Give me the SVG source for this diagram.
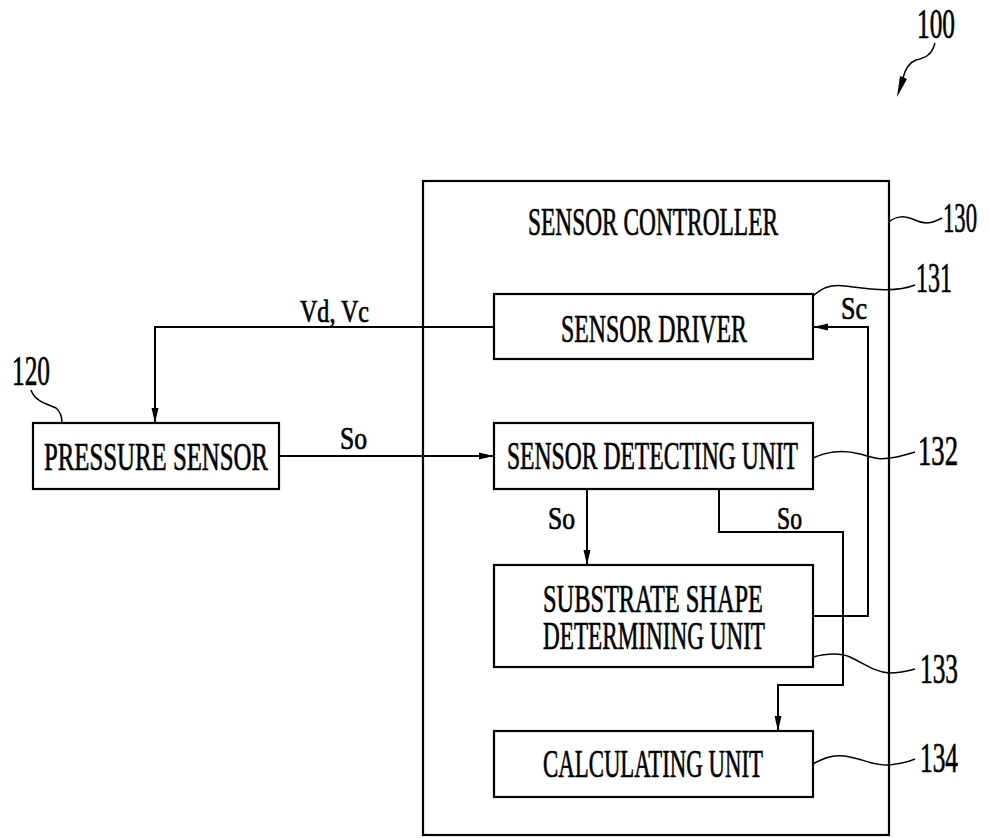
<svg xmlns="http://www.w3.org/2000/svg" width="990" height="838" viewBox="0 0 990 838">
<defs>
<marker id="ah" markerWidth="16" markerHeight="8" refX="15" refY="4" orient="auto" markerUnits="userSpaceOnUse">
<path d="M0,0.5 L15,4 L0,7.5 Z" fill="#000"/>
</marker>
<style>
.box{fill:#fff;stroke:#000;stroke-width:2.2}
.ln{fill:none;stroke:#000;stroke-width:2}
.ld{fill:none;stroke:#000;stroke-width:1.5}
text{font-family:"Liberation Serif","Times New Roman",serif;fill:#000;stroke:#000;stroke-width:0.7}
.t{font-size:39px}
.n{font-size:42px}
.s{font-size:31px}
</style>
</defs>
<rect width="990" height="838" fill="#fff"/>
<g id="n130">
<rect class="box" x="423" y="181" width="466" height="654"/>
<text class="t" x="528" y="235" textLength="250" lengthAdjust="spacingAndGlyphs">SENSOR CONTROLLER</text>
</g>
<g id="n131">
<rect class="box" x="494" y="294" width="319" height="65"/>
<text class="t" x="561" y="342" textLength="186" lengthAdjust="spacingAndGlyphs">SENSOR DRIVER</text>
</g>
<g id="n132">
<rect class="box" x="494" y="423" width="319" height="66"/>
<text class="t" x="507" y="469" textLength="291" lengthAdjust="spacingAndGlyphs">SENSOR DETECTING UNIT</text>
</g>
<g id="n133">
<rect class="box" x="494" y="565" width="319" height="102"/>
<text class="t" x="543" y="612" textLength="220" lengthAdjust="spacingAndGlyphs">SUBSTRATE SHAPE</text>
<text class="t" x="543" y="649" textLength="222" lengthAdjust="spacingAndGlyphs">DETERMINING UNIT</text>
</g>
<g id="n134">
<rect class="box" x="494" y="731" width="319" height="66"/>
<text class="t" x="543" y="777" textLength="220" lengthAdjust="spacingAndGlyphs">CALCULATING UNIT</text>
</g>
<g id="n120">
<rect class="box" x="33" y="423" width="246" height="66"/>
<text class="t" x="44" y="470" textLength="224" lengthAdjust="spacingAndGlyphs">PRESSURE SENSOR</text>
</g>
<g id="connectors">
<path class="ln" d="M494,327 H155 V423" marker-end="url(#ah)"/>
<path class="ln" d="M279,456 H494" marker-end="url(#ah)"/>
<path class="ln" d="M813,616 H868 V327 H813" marker-end="url(#ah)"/>
<path class="ln" d="M587,489 V565" marker-end="url(#ah)"/>
<path class="ln" d="M719,489 V532 H843 V685 H778 V731" marker-end="url(#ah)"/>
<text class="s" x="300" y="322" textLength="69" lengthAdjust="spacingAndGlyphs">Vd, Vc</text>
<text class="s" x="340" y="449" textLength="27" lengthAdjust="spacingAndGlyphs">So</text>
<text class="s" x="841" y="319" textLength="26" lengthAdjust="spacingAndGlyphs">Sc</text>
<text class="s" x="548" y="529" textLength="27" lengthAdjust="spacingAndGlyphs">So</text>
<text class="s" x="777" y="529" textLength="25" lengthAdjust="spacingAndGlyphs">So</text>
</g>
<g id="labels">
<path class="ld" d="M889,222 C897,215 905,216 915,220 C925,225 933,223 942,218"/>
<text class="n" x="943" y="232" textLength="34" lengthAdjust="spacingAndGlyphs">130</text>
<path class="ld" d="M813,296 C822,288 830,284 845,286 C870,289 895,293 915,285"/>
<text class="n" x="916" y="292" textLength="36" lengthAdjust="spacingAndGlyphs">131</text>
<path class="ld" d="M813,458 C830,450 845,450 860,454 C875,458 880,460 889,458 C900,457 908,454 915,452"/>
<text class="n" x="918" y="465" textLength="40" lengthAdjust="spacingAndGlyphs">132</text>
<path class="ld" d="M813,657 C825,654 838,652 850,657 C865,664 875,672 889,673 C900,673 908,671 915,669"/>
<text class="n" x="920" y="683" textLength="38" lengthAdjust="spacingAndGlyphs">133</text>
<path class="ld" d="M813,764 C825,757 835,754 850,757 C865,760 875,766 889,765 C900,764 908,762 915,759"/>
<text class="n" x="920" y="772" textLength="38" lengthAdjust="spacingAndGlyphs">134</text>
<path class="ld" d="M31,390 C35,402 48,404 56,408 C61,412 62,418 62,423"/>
<text class="n" x="12" y="385" textLength="38" lengthAdjust="spacingAndGlyphs">120</text>
<text class="n" x="917" y="38" textLength="38" lengthAdjust="spacingAndGlyphs">100</text>
<path class="ld" d="M935,43 C932,55 925,58 916,60 C908,63 905,70 903,78"/>
<path d="M900,76 L907,79 L897,97 Z" fill="#000"/>
</g>
</svg>
